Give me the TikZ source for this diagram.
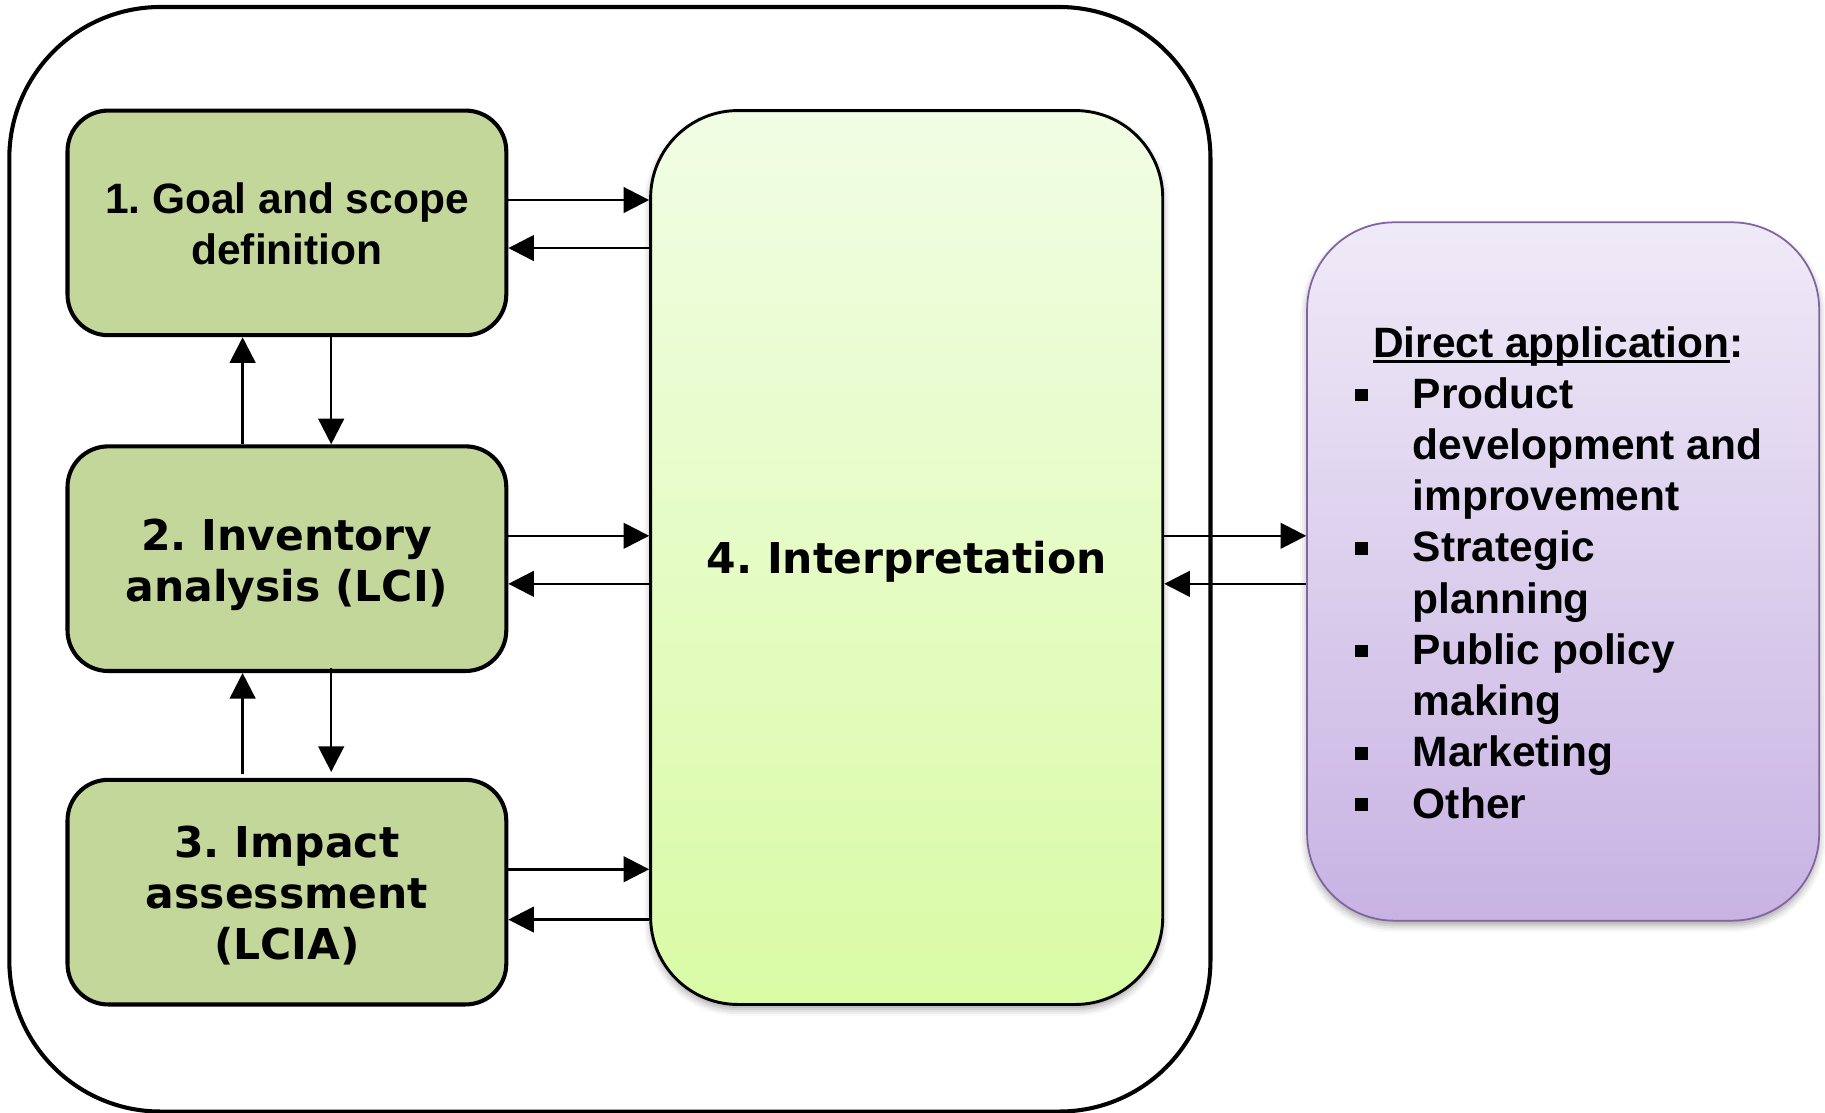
\documentclass[tikz,border=0pt]{standalone}
\usepackage{fontspec}
\setmainfont{Liberation Sans}
\newfontfamily\arialfont{Liberation Sans}
\newfontfamily\verdfont{DejaVu Sans}
\usetikzlibrary{arrows.meta,calc,shadows.blur}
\frenchspacing
\definecolor{boxgreen}{HTML}{C4D79B}
\definecolor{interptop}{HTML}{F1FDE4}
\definecolor{interpbot}{HTML}{D9FBA5}
\definecolor{apptop}{HTML}{EFEAF7}
\definecolor{appbot}{HTML}{C8B3E3}
\definecolor{appline}{HTML}{8064A2}
\newcommand\myul[1]{\setbox0=\hbox{#1}\rlap{\rule[-5pt]{\wd0}{2.2pt}}\box0}
\newcommand\mybul{\rule[6pt]{11pt}{11pt}}
\tikzset{
  frame/.style={draw=black, line width=3.5pt, rounded corners=130pt, minimum width=1032pt, minimum height=949pt, inner sep=0pt},
  stage/.style={draw=black, line width=3.5pt, fill=boxgreen, rounded corners=35pt, minimum width=377pt, minimum height=193pt, inner sep=0pt},
  arialtxt/.style={font=\arialfont\bfseries\fontsize{36.5}{44}\selectfont, align=center, inner sep=0pt},
  verdtxt/.style={font=\verdfont\bfseries\fontsize{36.5}{44}\selectfont, align=center, inner sep=0pt},
  interp/.style={draw=black, line width=2.5pt, top color=interptop, bottom color=interpbot, rounded corners=75pt, minimum width=440pt, minimum height=768pt, inner sep=0pt,
    blur shadow={shadow xshift=0pt, shadow yshift=-4pt, shadow blur radius=6pt, shadow opacity=35}},
  appbox/.style={draw=appline, line width=1.5pt, top color=apptop, bottom color=appbot, rounded corners=75pt, minimum width=440pt, minimum height=600pt, inner sep=0pt,
    blur shadow={shadow xshift=0pt, shadow yshift=-4pt, shadow blur radius=6pt, shadow opacity=35}},
  link/.style={line width=2.2pt, -{Triangle[length=22pt,width=22pt]}},
}
\begin{document}
\begin{tikzpicture}[x=1pt,y=-1pt]
\useasboundingbox (0,0) rectangle (1568,956);
\node[frame] (frame) at (524,480.5) {};
\node[stage] (b1) at (246.5,191.5) {};
\node[stage] (b2) at (246.5,480) {};
\node[stage] (b3) at (246.5,766.5) {};
\node[interp] (b4) at (779,479) {};
\node[appbox] (app) at (1343,491) {};
\node[arialtxt] (t1) at ($(b1.center)+(0,1)$) {1. Goal and scope\\definition};
\node[verdtxt] (t2) at ($(b2.center)+(0,5)$) {2. Inventory\\analysis (LCI)};
\node[verdtxt] (t3) at ($(b3.center)+(0,3)$) {3. Impact\\assessment\\(LCIA)};
\node[verdtxt] (t4) at ($(b4.center)+(0,4)$) {4. Interpretation};
\node[arialtxt] (tapp) at ($(app.center)+(-4,5)$) {%
\begin{tabular}{@{}l@{\hspace{39pt}}l@{}}
\multicolumn{2}{c}{\myul{Direct application}:}\\
\mybul & Product\\
 & development and\\
 & improvement\\
\mybul & Strategic\\
 & planning\\
\mybul & Public policy\\
 & making\\
\mybul & Marketing\\
\mybul & Other
\end{tabular}};
% vertical links
\draw[link] ($(b2.north west)!0.4!(b2.north east)$) -- ($(b1.south west)!0.4!(b1.south east)$);
\draw[link] ($(b1.south west)!0.6!(b1.south east)$) -- ($(b2.north west)!0.6!(b2.north east)$);
\draw[link] ($(b3.north west)!0.4!(b3.north east)+(0,-3)$) -- ($(b2.south west)!0.4!(b2.south east)$);
\draw[link] ($(b2.south west)!0.6!(b2.south east)+(0,-4)$) -- ($(b3.north west)!0.6!(b3.north east)+(0,-5)$);
% horizontal links
\coordinate (r1) at ($(b1.north east)!0.4!(b1.south east)$);
\coordinate (l1) at ($(b1.north east)!0.61!(b1.south east)$);
\coordinate (r2) at ($(b2.north east)!0.4!(b2.south east)$);
\coordinate (l2) at ($(b2.north east)!0.61!(b2.south east)$);
\coordinate (r3) at ($(b3.north east)!0.4!(b3.south east)$);
\coordinate (l3) at ($(b3.north east)!0.62!(b3.south east)$);
\draw[link] (r1) -- (r1 -| b4.west);
\draw[link] (l1 -| b4.west) -- (l1);
\draw[link] (r2) -- (r2 -| b4.west);
\draw[link] (l2 -| b4.west) -- (l2);
\draw[link] (r3) -- (r3 -| b4.west);
\draw[link] (l3 -| b4.west) -- (l3);
\draw[link] (r2 -| b4.east) -- (r2 -| app.west);
\draw[link] (l2 -| app.west) -- (l2 -| b4.east);
\end{tikzpicture}
\end{document}
